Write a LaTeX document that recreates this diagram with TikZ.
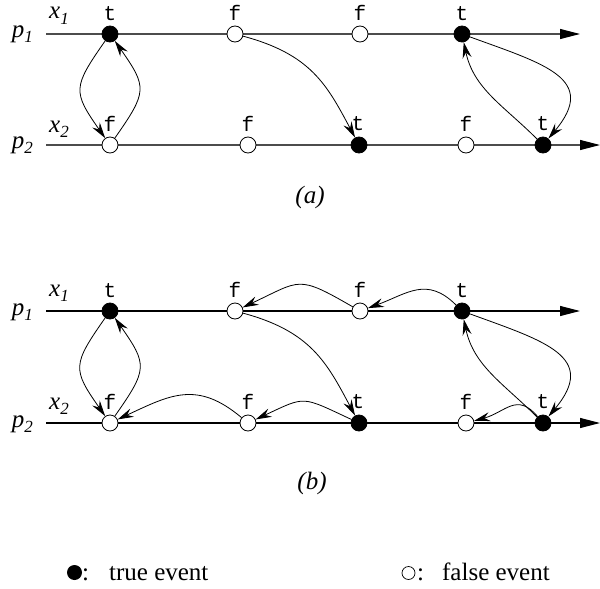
\documentclass[tikz,border=0pt]{standalone}
\usepackage{fontspec}
\setmainfont{Liberation Serif}
\newfontfamily\evfont{Liberation Mono}
\usetikzlibrary{arrows.meta}
\newcommand\subtxt[1]{\raisebox{-0.22em}{\fontsize{17}{17}\selectfont\textit{#1}}}
\tikzset{
  ev/.style={circle, draw, line width=0.8pt, minimum size=16pt, inner sep=0pt},
  tev/.style={ev, fill=black},
  fev/.style={ev, fill=white},
  evl/.style={font=\evfont\fontsize{21}{21}\selectfont, inner sep=0pt, anchor=base},
  axisA/.style={line width=1.1pt, draw=black!70, -{Triangle[length=20pt,width=10pt,color=black]}},
  axisB/.style={line width=1.1pt, draw=black, -{Triangle[length=20pt,width=10pt]}},
  conn/.style={line width=0.8pt, -{Stealth[length=16pt,width=9pt,inset=5.5pt]}},
  plab/.style={font=\fontsize{25}{25}\selectfont, inner sep=0pt, anchor=base},
  captxt/.style={font=\fontsize{25}{25}\selectfont\itshape, inner sep=0pt, anchor=base},
  legtxt/.style={font=\fontsize{25}{25}\selectfont, inner sep=0pt, anchor=base west},
  legT/.style={circle, fill=black, minimum size=15pt, inner sep=0pt},
  legF/.style={circle, draw, line width=0.7pt, fill=white, minimum size=13pt, inner sep=0pt}
}
\begin{document}
\begin{tikzpicture}[x=1pt,y=1pt]
\useasboundingbox (0,0) rectangle (600,-589);
% ---------------- (a)
\coordinate (a1s) at (46,-34);  \coordinate (a1e) at (580,-34);
\coordinate (a2s) at (46,-145); \coordinate (a2e) at (600,-145);
\draw[axisA] (a1s) -- (a1e);
\draw[axisA] (a2s) -- (a2e);
\node[plab] (pA1) at (22.5,-37) {\textit{p}\subtxt{1}};
\node[plab] (xA1) at (59,-19) {\textit{x}\subtxt{1}};
\node[plab] (pA2) at (22.5,-148) {\textit{p}\subtxt{2}};
\node[plab] (xA2) at (59,-132) {\textit{x}\subtxt{2}};
\node[tev] (a1t) at (110,-34) {};
\node[fev] (a1f) at (235,-34) {};
\node[fev] (a1g) at (360,-34) {};
\node[tev] (a1u) at (462,-34) {};
\node[fev] (a2f) at (110,-145) {};
\node[fev] (a2g) at (248,-145) {};
\node[tev] (a2t) at (359,-145) {};
\node[fev] (a2h) at (466,-145) {};
\node[tev] (a2u) at (543,-145) {};
\node[evl] (la1t) at (110,-20) {t};
\node[evl] (la1f) at (235,-20) {f};
\node[evl] (la1g) at (360,-20) {f};
\node[evl] (la1u) at (462,-20) {t};
\node[evl] (la2f) at (110,-131) {f};
\node[evl] (la2g) at (248,-131) {f};
\node[evl] (la2t) at (358,-130) {t};
\node[evl] (la2h) at (466,-131) {f};
\node[evl] (la2u) at (543,-130) {t};
\draw[conn] (a1t) to[out=-125,in=125,looseness=1.5] (a2f);
\draw[conn] (a2f) to[out=55,in=-55,looseness=1.5] (a1t);
\draw[conn] (a1f) to[out=-15,in=118,out distance=70,in distance=60] (a2t);
\draw[conn] (a1u) to[out=-20,in=50,out distance=80,in distance=78] (a2u);
\draw[conn] (a2u) to[out=135,in=-78] (a1u);
\node[captxt] (capA) at (310,-203) {(a)};
% ---------------- (b)
\coordinate (b1s) at (46,-311);  \coordinate (b1e) at (580,-311);
\coordinate (b2s) at (46,-423); \coordinate (b2e) at (600,-423);
\draw[axisB] (b1s) -- (b1e);
\draw[axisB] (b2s) -- (b2e);
\node[plab] (pB1) at (22.5,-315) {\textit{p}\subtxt{1}};
\node[plab] (xB1) at (59,-296) {\textit{x}\subtxt{1}};
\node[plab] (pB2) at (22.5,-427) {\textit{p}\subtxt{2}};
\node[plab] (xB2) at (59,-409) {\textit{x}\subtxt{2}};
\node[tev] (b1t) at (110,-311) {};
\node[fev] (b1f) at (235,-311) {};
\node[fev] (b1g) at (360,-311) {};
\node[tev] (b1u) at (462,-311) {};
\node[fev] (b2f) at (110,-423) {};
\node[fev] (b2g) at (248,-423) {};
\node[tev] (b2t) at (359,-423) {};
\node[fev] (b2h) at (466,-423) {};
\node[tev] (b2u) at (543,-423) {};
\node[evl] (lb1t) at (110,-297) {t};
\node[evl] (lb1f) at (235,-297) {f};
\node[evl] (lb1g) at (360,-297) {f};
\node[evl] (lb1u) at (462,-297) {t};
\node[evl] (lb2f) at (110,-409) {f};
\node[evl] (lb2g) at (248,-409) {f};
\node[evl] (lb2t) at (358,-408) {t};
\node[evl] (lb2h) at (466,-409) {f};
\node[evl] (lb2u) at (543,-408) {t};
\draw[conn] (b1t) to[out=-125,in=125,looseness=1.5] (b2f);
\draw[conn] (b2f) to[out=55,in=-55,looseness=1.5] (b1t);
\draw[conn] (b1f) to[out=-15,in=118,out distance=70,in distance=60] (b2t);
\draw[conn] (b1u) to[out=-20,in=50,out distance=80,in distance=78] (b2u);
\draw[conn] (b2u) to[out=135,in=-78] (b1u);
\draw[conn] (b1u) to[out=135,in=20,looseness=1.2] (b1g);
\draw[conn] (b1g) to[out=150,in=25,looseness=1.5] (b1f);
\draw[conn] (b2t) to[out=155,in=25,looseness=1.5] (b2g);
\draw[conn] (b2g) to[out=140,in=25,looseness=1.2] (b2f);
\draw[conn] (b2u) to[out=130,in=15,looseness=1.3] (b2h);
\node[captxt] (capB) at (312,-489) {(b)};
% ---------------- legend
\node[legT] (legTs) at (74.5,-572.5) {};
\node[legtxt] (legTt) at (82,-580) {:\hspace{20pt}true event};
\node[legF] (legFs) at (408.5,-573) {};
\node[legtxt] (legFt) at (417,-580) {:\hspace{18pt}false event};
\end{tikzpicture}
\end{document}
